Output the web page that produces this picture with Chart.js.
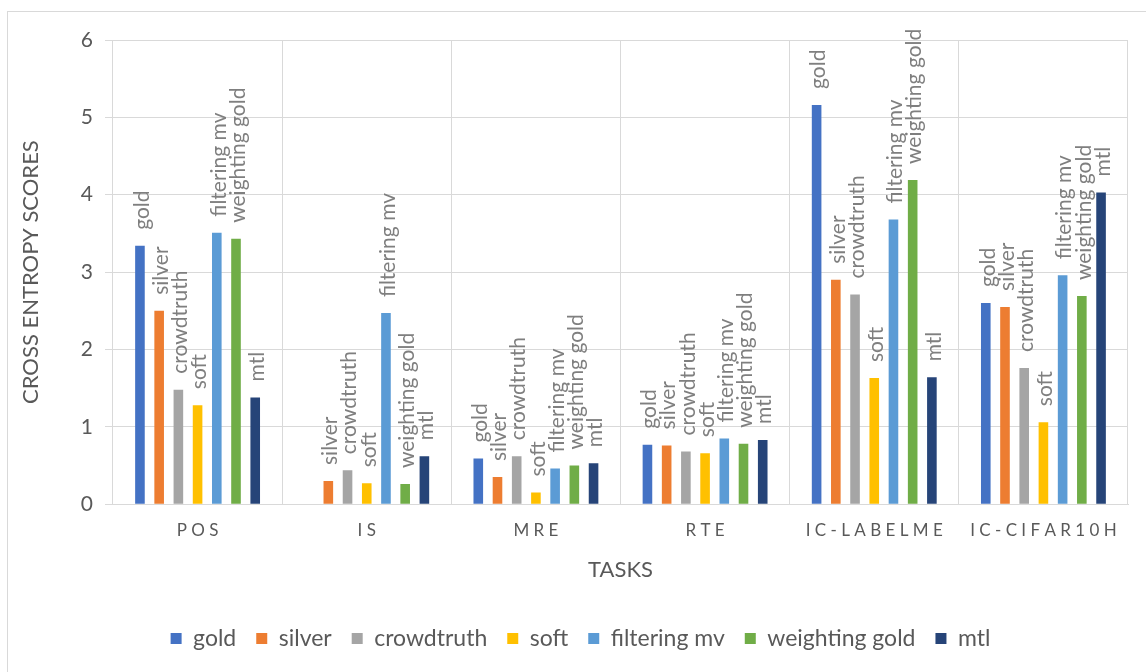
<!DOCTYPE html>
<html>
<head>
<meta charset="utf-8">
<script src="https://cdn.jsdelivr.net/npm/chart.js@4/dist/chart.umd.min.js"></script>
<style>
  html, body { margin: 0; padding: 0; background: #fff; }
  #wrap { position: relative; width: 1146px; height: 672px; overflow: hidden; }
  #frame { position: absolute; left: 7px; top: 11px; width: 1200px; height: 700px;
           border-left: 1px solid #d9d9d9; border-top: 1px solid #d9d9d9; }
  canvas { position: absolute; left: 0; top: 0; }
</style>
</head>
<body>
<div id="wrap">
  <div id="frame"></div>
  <canvas id="scores" width="1146" height="672"></canvas>
</div>
<script>
// tasks along the x axis
const tasks = ["POS", "IS", "MRE", "RTE", "IC-LABELME", "IC-CIFAR10H"];
const yTicks = [0, 1, 2, 3, 4, 5, 6];

// cross entropy per task, one array per training method
const gold          = [3.34, null, 0.59, 0.77, 5.16, 2.60];
const silver        = [2.50, 0.30, 0.35, 0.76, 2.90, 2.55];
const crowdtruth    = [1.48, 0.44, 0.62, 0.68, 2.71, 1.76];
const soft          = [1.28, 0.27, 0.15, 0.66, 1.63, 1.06];
const filteringMv   = [3.51, 2.47, 0.46, 0.85, 3.68, 2.96];
const weightingGold = [3.43, 0.26, 0.50, 0.78, 4.19, 2.69];
const mtl           = [1.38, 0.62, 0.53, 0.83, 1.64, 4.03];

const series = [
  ["gold", gold, "#4472C4"],
  ["silver", silver, "#ED7D31"],
  ["crowdtruth", crowdtruth, "#A5A5A5"],
  ["soft", soft, "#FFC000"],
  ["filtering mv", filteringMv, "#5B9BD5"],
  ["weighting gold", weightingGold, "#70AD47"],
  ["mtl", mtl, "#264478"]
];

const textColor = "#595959";
const gridColor = "#d9d9d9";
const fontFamily = "Lato, 'Open Sans', sans-serif";

// series name written vertically above each bar
const barNames = {
  id: "barNames",
  afterDatasetsDraw(chart) {
    const ctx = chart.ctx;
    ctx.save();
    ctx.font = "21px " + fontFamily;
    ctx.fillStyle = "#7f7f7f";
    ctx.textAlign = "left";
    ctx.textBaseline = "middle";
    chart.data.datasets.forEach((ds, i) => {
      chart.getDatasetMeta(i).data.forEach((bar, j) => {
        if (ds.data[j] == null) return;
        ctx.save();
        ctx.translate(bar.x + 2, bar.y - 16);
        ctx.rotate(-Math.PI / 2);
        ctx.fillText(ds.label, 0, 0);
        ctx.restore();
      });
    });
    ctx.restore();
  }
};

new Chart(document.getElementById("scores"), {
  type: "bar",
  data: {
    labels: tasks,
    datasets: series.map(([name, values, color]) => ({
      label: name,
      data: values,
      backgroundColor: color,
      borderWidth: 0,
      categoryPercentage: 0.795,
      barPercentage: 0.5
    }))
  },
  options: {
    responsive: false,
    animation: false,
    layout: { padding: { left: 33, right: 18, top: 40, bottom: 12 } },
    plugins: {
      legend: {
        position: "bottom",
        labels: {
          color: textColor,
          font: { family: fontFamily, size: 23 },
          boxWidth: 11,
          boxHeight: 11,
          padding: 20
        }
      },
      tooltip: { enabled: false }
    },
    scales: {
      x: {
        grid: { color: gridColor, offset: true, drawTicks: false },
        border: { color: gridColor },
        ticks: {
          color: textColor,
          font: { family: fontFamily, size: 17 },
          padding: 16,
          callback: (v, i) => tasks[i].split("").join(" ")
        },
        title: {
          display: true,
          text: "TASKS",
          color: textColor,
          font: { family: fontFamily, size: 22 },
          padding: { top: 0, bottom: 24 }
        }
      },
      y: {
        min: 0,
        max: 6,
        afterBuildTicks: scale => { scale.ticks = yTicks.map(v => ({ value: v })); },
        grid: { color: gridColor, tickLength: 8 },
        border: { display: false },
        ticks: {
          color: textColor,
          font: { family: fontFamily, size: 21 },
          padding: 12
        },
        title: {
          display: true,
          text: "CROSS ENTROPY SCORES",
          color: textColor,
          font: { family: fontFamily, size: 22 },
          padding: { top: -15, bottom: 0 }
        },
        afterFit: scale => { scale.width = 80; }
      }
    }
  },
  plugins: [barNames]
});
</script>
</body>
</html>
